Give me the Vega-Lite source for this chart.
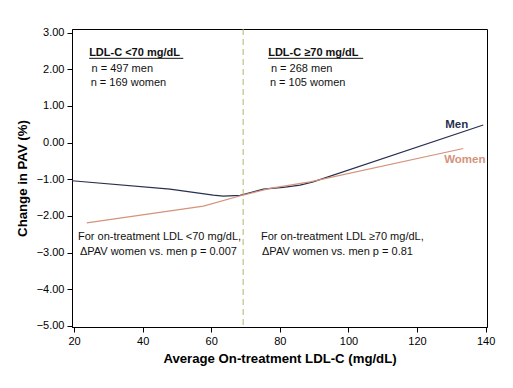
{
  "$schema": "https://vega.github.io/schema/vega-lite/v6.json",
  "width": 415,
  "height": 298,
  "autosize": {"type": "none"},
  "padding": {"left": 72, "top": 29, "right": 26, "bottom": 61},
  "background": "white",
  "config": {
    "font": "Liberation Sans",
    "view": {"stroke": "black", "strokeWidth": 1},
    "axis": {
      "grid": false,
      "domainColor": "black",
      "tickColor": "black",
      "labelColor": "black",
      "titleColor": "black",
      "labelFont": "Liberation Sans",
      "titleFont": "Liberation Sans",
      "labelFontSize": 11,
      "titleFontSize": 13.2,
      "titleFontWeight": "bold",
      "tickSize": 5,
      "labelOverlap": false
    }
  },
  "datasets": {
    "lines": [
      {"series": "Men", "x": 19.4, "y": -1.04},
      {"series": "Men", "x": 47.97, "y": -1.27},
      {"series": "Men", "x": 60.6, "y": -1.43},
      {"series": "Men", "x": 63.5, "y": -1.46},
      {"series": "Men", "x": 68.4, "y": -1.44},
      {"series": "Men", "x": 75.2, "y": -1.27},
      {"series": "Men", "x": 81.0, "y": -1.22},
      {"series": "Men", "x": 85.9, "y": -1.16},
      {"series": "Men", "x": 89.7, "y": -1.07},
      {"series": "Men", "x": 139.3, "y": 0.48},
      {"series": "Women", "x": 23.7, "y": -2.19},
      {"series": "Women", "x": 57.7, "y": -1.73},
      {"series": "Women", "x": 69.3, "y": -1.43},
      {"series": "Women", "x": 77.1, "y": -1.25},
      {"series": "Women", "x": 88.8, "y": -1.07},
      {"series": "Women", "x": 133.5, "y": -0.16}
    ],
    "notes": [
      {"x": 25.1, "y": 1.94, "text": "n = 497 men"},
      {"x": 24.85, "y": 1.55, "text": "n = 169 women"},
      {"x": 77.4, "y": 1.94, "text": "n = 268 men"},
      {"x": 77.1, "y": 1.55, "text": "n = 105 women"},
      {"x": 21.15, "y": -2.65, "text": "For on-treatment LDL <70 mg/dL,"},
      {"x": 21.7, "y": -3.07, "text": "ΔPAV women vs. men p = 0.007"},
      {"x": 74.5, "y": -2.65, "text": "For on-treatment LDL ≥70 mg/dL,"},
      {"x": 74.8, "y": -3.07, "text": "ΔPAV women vs. men  p = 0.81"}
    ],
    "headers": [
      {"x": 24.4, "x2": 51.85, "y": 2.35, "yu": 2.3, "text": "LDL-C <70 mg/dL"},
      {"x": 76.6, "x2": 104.3, "y": 2.35, "yu": 2.3, "text": "LDL-C ≥70 mg/dL"}
    ],
    "serieslabels": [
      {"series": "Men", "x": 128.2, "y": 0.39},
      {"series": "Women", "x": 127.9, "y": -0.56}
    ],
    "cut": [{"x": 69.3}]
  },
  "layer": [
    {
      "data": {"name": "lines"},
      "mark": {"type": "line", "strokeWidth": 1.2},
      "encoding": {
        "x": {
          "field": "x", "type": "quantitative",
          "scale": {"domain": [19.4, 140.4], "nice": false, "zero": false},
          "axis": {"values": [20, 40, 60, 80, 100, 120, 140], "tickCount": 12, "title": "Average On-treatment LDL-C (mg/dL)", "labelPadding": 3, "titlePadding": 6, "labelFlush": false, "labelOverlap": false}
        },
        "y": {
          "field": "y", "type": "quantitative",
          "scale": {"domain": [-5.03, 3.1], "nice": false, "zero": false},
          "axis": {"values": [-5, -4, -3, -2, -1, 0, 1, 2, 3], "tickCount": 12, "format": ".2f", "title": "Change in PAV (%)", "labelPadding": 3, "titlePadding": 7, "labelFlush": false, "labelOverlap": false, "labelBound": false}
        },
        "color": {"field": "series", "type": "nominal", "scale": {"domain": ["Men", "Women"], "range": ["#27304f", "#d4937b"]}, "legend": null}
      }
    },
    {
      "data": {"name": "cut"},
      "mark": {"type": "rule", "color": "#b0b468", "strokeWidth": 1, "strokeDash": [6, 4]},
      "encoding": {
        "x": {"field": "x", "type": "quantitative"}
      }
    },
    {
      "data": {"name": "notes"},
      "mark": {"type": "text", "align": "left", "baseline": "alphabetic", "fontSize": 11, "color": "#111"},
      "encoding": {
        "x": {"field": "x", "type": "quantitative"},
        "y": {"field": "y", "type": "quantitative"},
        "text": {"field": "text"}
      }
    },
    {
      "data": {"name": "headers"},
      "mark": {"type": "text", "align": "left", "baseline": "alphabetic", "fontSize": 11, "fontWeight": "bold", "color": "#111"},
      "encoding": {
        "x": {"field": "x", "type": "quantitative"},
        "y": {"field": "y", "type": "quantitative"},
        "text": {"field": "text"}
      }
    },
    {
      "data": {"name": "headers"},
      "mark": {"type": "rule", "color": "#111", "strokeWidth": 1},
      "encoding": {
        "x": {"field": "x", "type": "quantitative"},
        "x2": {"field": "x2"},
        "y": {"field": "yu", "type": "quantitative"}
      }
    },
    {
      "data": {"name": "serieslabels"},
      "mark": {"type": "text", "align": "left", "baseline": "alphabetic", "fontSize": 11.5, "fontWeight": "bold"},
      "encoding": {
        "x": {"field": "x", "type": "quantitative"},
        "y": {"field": "y", "type": "quantitative"},
        "text": {"field": "series"},
        "color": {"field": "series", "type": "nominal", "legend": null}
      }
    }
  ]
}
